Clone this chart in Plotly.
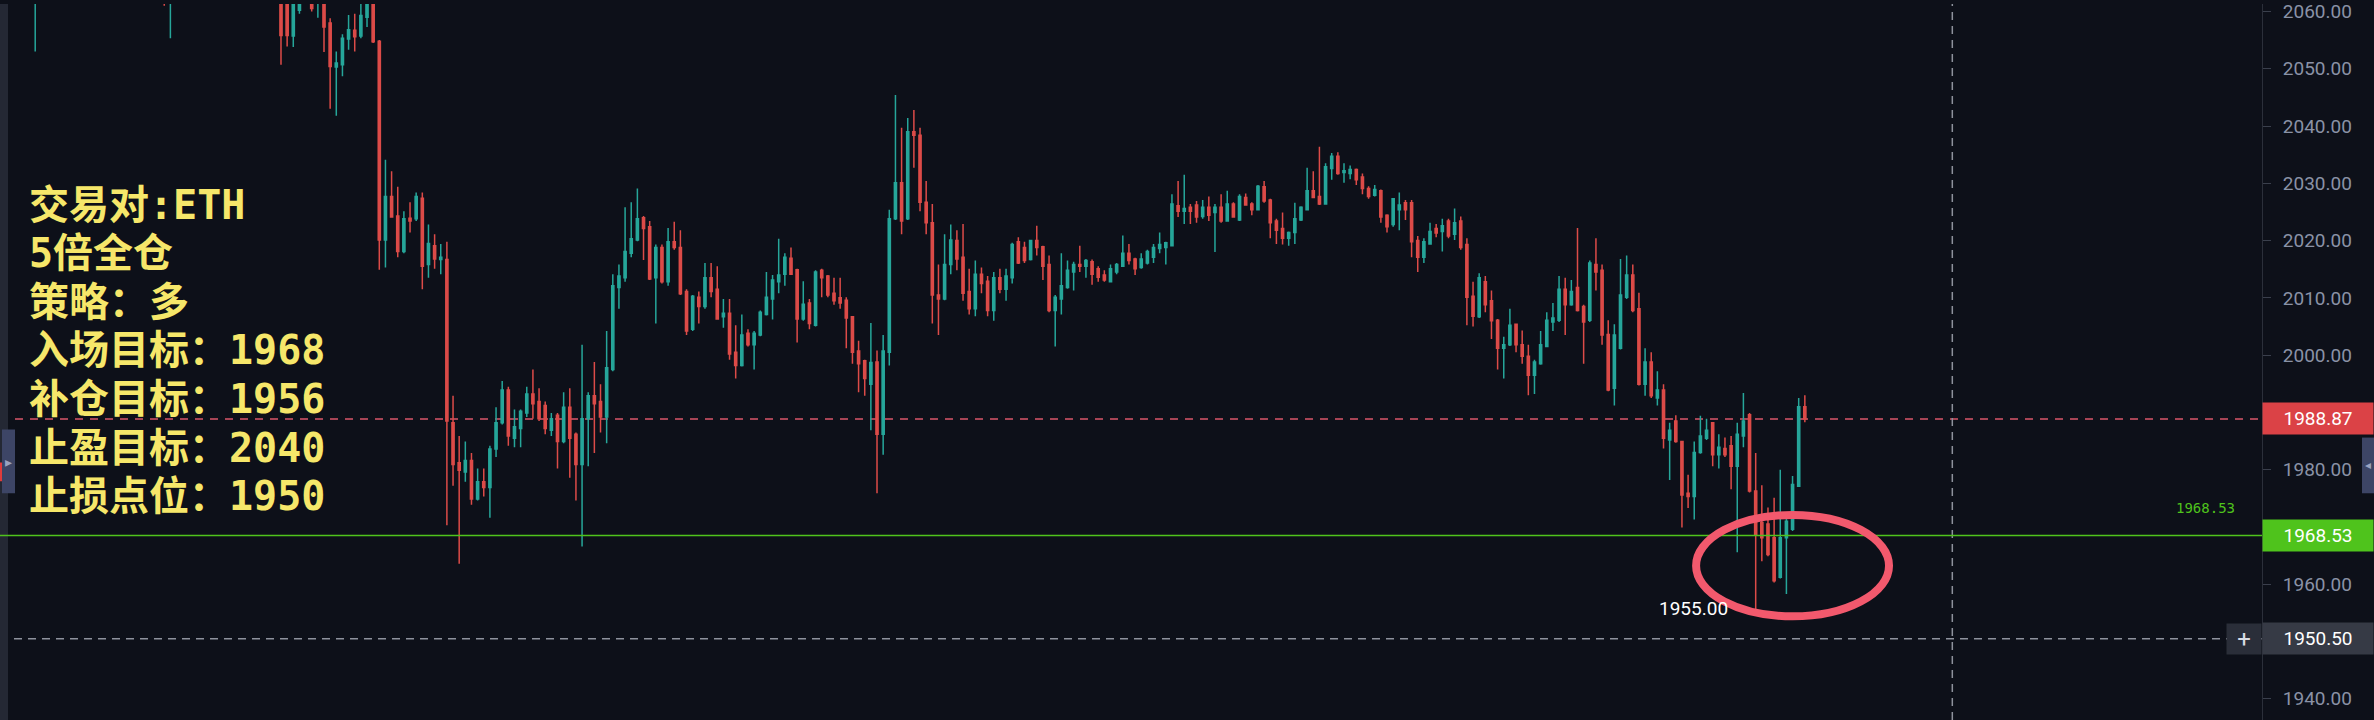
import plotly.graph_objects as go

# ---------------- data ----------------
bar_index = [0, 21, 22, 40, 41, 42, 43, 45, 46, 47,
             48, 49, 50, 51, 52, 53, 54, 55, 56, 57, 58, 59, 60, 61, 62, 63, 64, 65, 66, 67,
             68, 69, 70, 71, 72, 73, 74, 75, 76, 77, 78, 79, 80, 81, 82, 83, 84, 85, 86, 87,
             88, 89, 90, 91, 92, 93, 94, 95, 96, 97, 98, 99, 100, 101, 102, 103, 104, 105, 106, 107,
             108, 109, 110, 111, 112, 113, 114, 115, 116, 117, 118, 119, 120, 121, 122, 123, 124, 125, 126, 127,
             128, 129, 130, 131, 132, 133, 134, 135, 136, 137, 138, 139, 140, 141, 142, 143, 144, 145, 146, 147,
             148, 149, 150, 151, 152, 153, 154, 155, 156, 157, 158, 159, 160, 161, 162, 163, 164, 165, 166, 167,
             168, 169, 170, 171, 172, 173, 174, 175, 176, 177, 178, 179, 180, 181, 182, 183, 184, 185, 186, 187,
             188, 189, 190, 191, 192, 193, 194, 195, 196, 197, 198, 199, 200, 201, 202, 203, 204, 205, 206, 207,
             208, 209, 210, 211, 212, 213, 214, 215, 216, 217, 218, 219, 220, 221, 222, 223, 224, 225, 226, 227,
             228, 229, 230, 231, 232, 233, 234, 235, 236, 237, 238, 239, 240, 241, 242, 243, 244, 245, 246, 247,
             248, 249, 250, 251, 252, 253, 254, 255, 256, 257, 258, 259, 260, 261, 262, 263, 264, 265, 266, 267,
             268, 269, 270, 271, 272, 273, 274, 275, 276, 277, 278, 279, 280, 281, 282, 283, 284, 285, 286, 287,
             288]

open_ = [2063, 2064, 2063, 2064, 2063, 2055.7, 2060.2, 2063, 2063, 2063,
         2058.0, 2050.3, 2050.7, 2055.2, 2056.7, 2055.7, 2059.0, 2063.0, 2054.8, 2020.1, 2027.7, 2024.3, 2018.1, 2023.9, 2023.8, 2027.4, 2015.8, 2019.1, 2016.7, 2016.7,
         1988.2, 1981.2, 1979.6, 1981.6, 1974.9, 1977.9, 1976.9, 1983.6, 1988.2, 1993.9, 1985.5, 1987.2, 1989.9, 1993.2, 1991.9, 1991.2, 1986.9, 1989.5, 1984.9, 1990.9,
         1986.2, 1980.9, 1988.9, 1992.9, 1991.9, 1989.2, 1997.5, 2011.8, 2013.5, 2017.8, 2020.1, 2024.0, 2022.4, 2013.5, 2018.8, 2012.8, 2019.8, 2018.8, 2011.1, 2004.5,
         2010.1, 2008.5, 2013.5, 2011.5, 2006.7, 2007.3, 2000.5, 1998.2, 2003.8, 2001.8, 2003.5, 2007.1, 2009.8, 2012.8, 2014.1, 2016.9, 2014.9, 2006.3, 2009.1, 2005.2,
         2014.8, 2013.8, 2010.8, 2010.0, 2009.6, 2006.7, 2000.7, 1999.0, 1994.9, 1998.8, 1986.2, 2000.5, 2023.8, 2030.1, 2023.8, 2039.0, 2038.4, 2026.7, 2023.1, 2010.5,
         2009.8, 2015.8, 2020.0, 2017.1, 2011.1, 2008.1, 2014.1, 2012.9, 2007.8, 2013.5, 2011.5, 2013.5, 2019.8, 2018.8, 2016.7, 2020.0, 2018.9, 2015.8, 2007.8, 2009.8,
         2011.8, 2014.5, 2015.8, 2015.5, 2016.3, 2015.1, 2014.0, 2012.8, 2014.5, 2015.5, 2017.8, 2016.8, 2015.3, 2016.1, 2017.1, 2018.6, 2018.8, 2019.1, 2026.1, 2025.1,
         2025.8, 2026.2, 2024.2, 2025.8, 2024.9, 2025.8, 2023.4, 2026.4, 2023.6, 2027.5, 2026.4, 2025.4, 2029.4, 2027.1, 2023.4, 2022.1, 2020.4, 2021.4, 2023.6, 2025.4,
         2028.7, 2027.7, 2026.4, 2032.6, 2034.7, 2031.9, 2031.7, 2032.4, 2031.1, 2029.1, 2027.9, 2028.7, 2024.4, 2022.8, 2025.4, 2026.6, 2026.6, 2020.0, 2017.1, 2019.4,
         2022.1, 2021.6, 2023.4, 2021.1, 2023.4, 2019.3, 2010.3, 2006.7, 2012.8, 2009.5, 2006.1, 2001.2, 2001.8, 2005.4, 2001.8, 1999.8, 1996.5, 1998.5, 2001.5, 2005.8,
         2006.1, 2011.5, 2008.8, 2011.8, 2008.5, 2006.1, 2015.8, 2014.8, 2003.6, 1994.2, 2001.2, 2010.1, 2014.0, 2008.1, 1994.9, 1998.8, 1992.5, 1993.9, 1985.2, 1988.5,
         1984.9, 1975.9, 1975.3, 1983.0, 1985.5, 1988.2, 1982.6, 1983.7, 1984.2, 1980.6, 1985.9, 1989.6, 1976.3, 1970.8, 1970.5, 1968.1, 1961.2, 1968.1, 1969.6, 1977.1,
         1991.0]

high = [2070, 2066, 2069, 2066, 2065, 2065, 2066, 2065, 2067, 2065,
        2058.8, 2053.0, 2056.0, 2059.4, 2059.6, 2061.5, 2064.0, 2065.0, 2055.0, 2034.1, 2032.1, 2029.4, 2025.1, 2026.7, 2028.4, 2028.4, 2022.8, 2021.1, 2019.4, 2019.8,
        1992.9, 1985.9, 1984.9, 1982.9, 1980.2, 1980.2, 1984.2, 1990.9, 1995.5, 1994.5, 1990.5, 1990.5, 1994.5, 1997.5, 1994.2, 1991.9, 1989.9, 1989.9, 1993.5, 1994.2,
        1986.5, 2001.8, 1993.5, 1998.8, 1994.9, 2004.2, 2014.1, 2015.8, 2025.8, 2026.7, 2029.1, 2024.3, 2023.4, 2019.3, 2019.3, 2022.2, 2023.3, 2021.8, 2011.5, 2010.5,
        2011.1, 2016.1, 2016.1, 2015.5, 2009.8, 2009.8, 2005.2, 2007.1, 2004.5, 2004.2, 2007.8, 2014.5, 2014.0, 2020.3, 2017.8, 2018.8, 2015.1, 2012.9, 2009.8, 2014.8,
        2015.1, 2014.0, 2013.5, 2013.5, 2010.1, 2006.8, 2002.5, 1999.2, 2005.6, 2000.8, 2003.5, 2025.4, 2045.4, 2039.7, 2041.4, 2042.8, 2039.7, 2030.4, 2026.4, 2015.8,
        2021.1, 2022.8, 2021.8, 2022.9, 2015.1, 2016.5, 2015.3, 2013.8, 2014.5, 2015.1, 2015.1, 2019.6, 2020.6, 2019.8, 2020.1, 2022.6, 2019.1, 2017.4, 2010.5, 2017.8,
        2016.5, 2016.3, 2019.1, 2016.8, 2016.7, 2015.5, 2014.8, 2015.8, 2016.1, 2020.9, 2019.4, 2017.0, 2017.8, 2018.4, 2019.4, 2021.4, 2019.8, 2028.1, 2030.4, 2031.5,
        2026.4, 2026.9, 2027.1, 2027.7, 2026.4, 2028.1, 2028.7, 2026.7, 2028.1, 2028.2, 2026.7, 2029.7, 2030.4, 2027.3, 2023.8, 2024.9, 2021.6, 2026.6, 2026.0, 2032.7,
        2032.1, 2036.4, 2033.5, 2035.3, 2035.4, 2033.5, 2033.1, 2032.6, 2031.7, 2029.5, 2029.7, 2028.9, 2024.6, 2027.4, 2028.4, 2027.1, 2027.1, 2020.8, 2020.4, 2023.1,
        2022.9, 2023.8, 2023.8, 2025.6, 2024.2, 2020.4, 2012.8, 2014.3, 2013.8, 2011.3, 2006.3, 2003.2, 2008.1, 2005.5, 2004.3, 2001.8, 1999.2, 2004.2, 2007.5, 2009.1,
        2013.8, 2013.5, 2013.1, 2022.2, 2008.8, 2016.5, 2020.4, 2015.8, 2006.1, 2005.4, 2016.8, 2017.4, 2015.8, 2010.9, 2001.2, 2000.5, 1997.2, 1994.9, 1988.2, 1989.5,
        1985.0, 1979.1, 1984.9, 1989.4, 1988.9, 1988.3, 1986.2, 1985.6, 1985.9, 1988.2, 1993.4, 1989.9, 1982.9, 1977.3, 1973.4, 1975.1, 1980.0, 1971.6, 1978.9, 1992.5,
        1993.0]

low = [2053.0, 2061.0, 2055.3, 2050.7, 2053.9, 2053.8, 2059.6, 2060.0, 2058.9, 2052.9,
       2043.0, 2041.8, 2048.7, 2053.3, 2053.0, 2055.3, 2057.3, 2054.5, 2014.9, 2015.3, 2024.0, 2017.1, 2017.8, 2021.4, 2023.4, 2011.5, 2013.5, 2015.1, 2014.1, 1970.3,
       1977.2, 1963.6, 1977.9, 1973.9, 1974.6, 1975.3, 1971.6, 1982.2, 1987.9, 1984.2, 1983.9, 1983.9, 1989.2, 1988.9, 1988.5, 1986.2, 1985.9, 1980.2, 1984.6, 1978.6,
       1974.6, 1966.6, 1980.6, 1982.9, 1986.5, 1984.6, 1997.2, 2008.1, 2012.8, 2017.1, 2019.9, 2016.6, 2013.1, 2005.5, 2012.5, 2012.1, 2018.4, 2010.5, 2003.5, 2004.2,
       2005.5, 2008.1, 2010.1, 2006.2, 2004.8, 1999.2, 1995.9, 1998.0, 2001.5, 1997.5, 2003.3, 2006.9, 2006.2, 2010.8, 2012.1, 2014.0, 2002.2, 2006.0, 2004.5, 2005.0,
       2010.1, 2010.1, 2008.8, 2008.1, 2001.2, 1998.5, 1993.5, 1992.9, 1986.9, 1975.9, 1982.6, 1998.2, 2023.6, 2021.1, 2023.6, 2032.7, 2025.1, 2021.1, 2005.5, 2003.5,
       2009.6, 2014.1, 2014.8, 2009.5, 2007.1, 2006.8, 2010.8, 2006.8, 2006.0, 2010.8, 2009.5, 2012.5, 2015.9, 2016.1, 2016.5, 2017.4, 2013.1, 2007.5, 2001.5, 2007.1,
       2011.6, 2011.3, 2014.5, 2013.5, 2012.3, 2012.8, 2012.8, 2012.7, 2014.1, 2015.4, 2015.8, 2014.0, 2015.1, 2015.8, 2016.1, 2017.8, 2015.8, 2019.0, 2024.1, 2022.9,
       2022.9, 2023.1, 2023.8, 2023.4, 2018.0, 2023.1, 2023.3, 2024.0, 2023.4, 2026.1, 2024.4, 2025.3, 2026.6, 2020.4, 2019.4, 2019.3, 2019.1, 2019.4, 2023.4, 2025.3,
       2027.4, 2026.2, 2026.3, 2030.6, 2031.5, 2030.1, 2030.7, 2029.7, 2028.1, 2027.3, 2027.7, 2023.1, 2021.4, 2022.4, 2021.8, 2023.6, 2017.1, 2014.5, 2016.1, 2019.3,
       2020.6, 2018.1, 2020.4, 2020.1, 2018.4, 2005.2, 2005.0, 2006.5, 2007.5, 2002.8, 1997.5, 1995.9, 2001.6, 2000.5, 1998.5, 1993.0, 1993.2, 1998.3, 2001.4, 2004.2,
       2005.8, 2003.5, 2008.6, 2007.6, 1998.5, 2005.8, 2011.3, 2001.8, 1993.7, 1991.2, 2001.0, 2009.8, 2007.5, 1994.7, 1992.9, 1992.5, 1991.2, 1983.7, 1978.2, 1984.7,
       1969.9, 1973.3, 1971.3, 1982.8, 1985.2, 1980.6, 1980.2, 1982.2, 1976.6, 1965.6, 1983.9, 1976.0, 1955.0, 1964.0, 1964.9, 1960.3, 1961.0, 1958.3, 1969.3, 1977.0,
       1988.3]

close = [2068, 2061.8, 2067, 2055.8, 2055.8, 2063, 2064, 2060.5, 2066, 2057.3,
         2050.4, 2051.0, 2055.3, 2056.8, 2055.6, 2059.3, 2062.5, 2054.7, 2020.1, 2027.7, 2024.1, 2018.1, 2023.8, 2023.4, 2027.7, 2015.5, 2019.5, 2016.8, 2017.1, 1988.5,
         1980.9, 1979.9, 1981.6, 1974.9, 1977.9, 1976.9, 1983.6, 1988.2, 1993.9, 1985.9, 1987.5, 1990.2, 1993.2, 1991.5, 1988.9, 1987.2, 1988.9, 1984.9, 1990.9, 1985.5,
         1980.9, 1988.9, 1992.9, 1991.5, 1989.2, 1997.8, 2012.1, 2013.8, 2018.1, 2020.3, 2023.8, 2022.1, 2013.3, 2018.8, 2012.8, 2019.8, 2018.8, 2010.7, 2004.2, 2010.3,
         2008.5, 2013.5, 2011.1, 2006.3, 2007.3, 2000.2, 1998.2, 2003.5, 2001.8, 2003.8, 2007.5, 2010.1, 2013.1, 2014.0, 2017.1, 2014.1, 2006.3, 2008.9, 2005.5, 2014.5,
         2013.5, 2010.5, 2009.5, 2009.1, 2006.5, 2000.5, 1998.5, 1995.9, 1998.7, 1986.2, 2000.7, 2023.8, 2030.1, 2023.4, 2039.0, 2038.4, 2026.7, 2023.1, 2010.5, 2009.8,
         2015.8, 2020.1, 2016.8, 2010.8, 2008.1, 2014.1, 2012.5, 2007.8, 2013.5, 2011.5, 2013.8, 2019.3, 2016.1, 2016.5, 2020.0, 2018.8, 2015.5, 2007.8, 2010.1, 2012.1,
         2014.8, 2015.8, 2015.5, 2016.5, 2014.1, 2013.6, 2013.1, 2015.1, 2015.8, 2017.8, 2016.5, 2015.1, 2016.8, 2018.1, 2018.8, 2019.3, 2019.6, 2026.4, 2025.1, 2025.6,
         2025.1, 2024.1, 2025.8, 2024.4, 2025.8, 2023.4, 2026.4, 2024.1, 2027.7, 2026.2, 2025.4, 2029.5, 2026.9, 2023.1, 2021.8, 2020.4, 2021.4, 2023.8, 2025.8, 2028.7,
         2027.5, 2026.4, 2032.9, 2034.7, 2031.7, 2032.2, 2032.4, 2030.6, 2029.1, 2027.7, 2028.9, 2024.1, 2022.4, 2027.3, 2026.2, 2025.4, 2019.8, 2017.1, 2019.8, 2021.6,
         2021.3, 2022.6, 2020.8, 2023.1, 2018.8, 2010.1, 2006.8, 2013.5, 2008.8, 2006.0, 2001.2, 2001.8, 2005.2, 2001.8, 1999.8, 1996.5, 1998.8, 2001.8, 2006.1, 2006.5,
         2011.5, 2008.8, 2011.1, 2007.8, 2005.8, 2016.1, 2014.5, 2003.5, 1993.9, 2003.5, 2010.5, 2014.0, 2007.8, 1994.9, 1998.8, 1992.9, 1993.9, 1985.5, 1986.9, 1984.9,
         1975.6, 1975.3, 1983.0, 1985.9, 1986.9, 1982.6, 1983.9, 1982.6, 1980.6, 1986.2, 1988.5, 1976.3, 1968.7, 1968.1, 1965.2, 1960.6, 1968.1, 1971.0, 1977.4, 1991.0,
         1988.87]

# axis labels that stay visible (1950/1970/1990 sit under the price tags)
price_ticks = [1940, 1960, 1980, 2000, 2010, 2020, 2030, 2040, 2050, 2060]
price_tick_labels = ["1940.00", "1960.00", "1980.00", "2000.00", "2010.00",
                     "2020.00", "2030.00", "2040.00", "2050.00", "2060.00"]

last_price = 1988.87
entry_line_price = 1968.53
crosshair_price = 1950.50
crosshair_bar = 312
session_low = 1955.00
session_low_bar = 280

strategy_lines = ["交易对:ETH", "5倍全仓", "策略：多", "入场目标：1968",
                  "补仓目标：1956", "止盈目标：2040", "止损点位：1950"]

# ---------------- styling ----------------
W, H = 2374, 720
AXIS_W = 112
PLOT_W = W - AXIS_W
BG = "#0d1019"
GREEN = "#26a69a"
RED = "#dc4b48"
YELLOW = "#f6e76a"
LINE_GREEN = "#4fc31c"
X_RANGE = [-5.73, 362.4]
Y_RANGE = [1936.3, 2061.3]

fig = go.Figure(go.Candlestick(
    x=bar_index, open=open_, high=high, low=low, close=close,
    increasing=dict(line=dict(color=GREEN, width=1.5), fillcolor=GREEN),
    decreasing=dict(line=dict(color=RED, width=1.5), fillcolor=RED),
    whiskerwidth=0, hoverinfo="skip", showlegend=False,
))

shapes = [
    # left toolbar strip
    dict(type="rect", xref="paper", yref="paper", x0=0, x1=8 / PLOT_W, y0=0, y1=1,
         fillcolor="#242834", line=dict(width=0), layer="above"),
    dict(type="rect", xref="paper", yref="paper", x0=2 / PLOT_W, x1=15 / PLOT_W,
         y0=1 - 492 / H, y1=1 - 428 / H, fillcolor="#3d4566", line=dict(width=0), layer="above"),
    dict(type="rect", xref="paper", yref="paper", x0=0, x1=2 / PLOT_W,
         y0=1 - 480 / H, y1=1 - 461 / H, fillcolor="#e03c3c", line=dict(width=0), layer="above"),
    # right tab
    dict(type="rect", xref="paper", yref="paper", x0=2362 / PLOT_W, x1=2374 / PLOT_W,
         y0=1 - 492 / H, y1=1 - 436 / H, fillcolor="#3d4566", line=dict(width=0), layer="above"),
    # last price dashed line
    dict(type="line", xref="paper", yref="y", x0=0, x1=1, y0=last_price, y1=last_price,
         line=dict(color="#d9566a", width=1.5, dash="8px,7px"), layer="below"),
    # entry solid green line
    dict(type="line", xref="paper", yref="y", x0=0, x1=1, y0=entry_line_price, y1=entry_line_price,
         line=dict(color=LINE_GREEN, width=1.5), layer="above"),
    # crosshair
    dict(type="line", xref="paper", yref="y", x0=0, x1=1, y0=crosshair_price, y1=crosshair_price,
         line=dict(color="#8e929d", width=1.5, dash="8px,6px"), layer="below"),
    dict(type="line", xref="x", yref="paper", x0=crosshair_bar, x1=crosshair_bar, y0=0, y1=1,
         line=dict(color="#8e929d", width=1.5, dash="8px,6px"), layer="below"),
    # highlight ellipse
    dict(type="circle", xref="x", yref="y", x0=270.3, x1=301.7, y0=1954.4, y1=1972.1,
         line=dict(color="#f2596d", width=8), fillcolor="rgba(0,0,0,0)", layer="above"),
]

annotations = []
for k, txt in enumerate(strategy_lines):
    yc = 202 + k * 48.8
    annotations.append(dict(
        xref="paper", yref="paper", x=27 / PLOT_W, y=1 - yc / H, xanchor="left", yanchor="middle",
        text="<b>" + txt + "</b>", showarrow=False,
        font=dict(family="DejaVu Sans Mono, Noto Sans CJK SC", size=40, color=YELLOW),
    ))

def price_box(price, color, txt_color="#ffffff"):
    return dict(xref="paper", yref="y", x=1, y=price, xanchor="left", yanchor="middle",
                text=f"{price:.2f}", showarrow=False, bgcolor=color, width=110, height=31,
                borderpad=0, align="center",
                font=dict(family="Roboto", size=19, color=txt_color))

annotations += [
    price_box(last_price, "#db4246"),
    price_box(entry_line_price, LINE_GREEN),
    price_box(crosshair_price, "#363a45"),
    dict(xref="paper", yref="y", x=1, y=crosshair_price, xanchor="right", yanchor="middle",
         text="+", showarrow=False, bgcolor="#2a2e39", width=34, height=30, borderpad=0,
         font=dict(family="Roboto", size=24, color="#d8dbe3")),
    dict(xref="paper", yref="y", x=1 - 25 / PLOT_W, y=entry_line_price, xanchor="right",
         yanchor="middle", yshift=27, text=f"{entry_line_price:.2f}", showarrow=False,
         font=dict(family="DejaVu Sans Mono", size=14, color=LINE_GREEN)),
    dict(xref="x", yref="y", x=session_low_bar, y=session_low, xanchor="right", yanchor="middle",
         xshift=-26, yshift=4, text=f"{session_low:.2f}", showarrow=False,
         font=dict(family="Roboto", size=19, color="#ffffff")),
    dict(xref="paper", yref="paper", x=8.5 / PLOT_W, y=1 - 460 / H, xanchor="center", yanchor="middle",
         text="▸", showarrow=False, font=dict(size=14, color="#9aa3c0")),
    dict(xref="paper", yref="paper", x=2368 / PLOT_W, y=1 - 463 / H, xanchor="center", yanchor="middle",
         text="◂", showarrow=False, font=dict(size=12, color="#9aa3c0")),
]

fig.update_layout(
    width=W, height=H,
    margin=dict(l=0, r=AXIS_W, t=0, b=0),
    paper_bgcolor=BG, plot_bgcolor=BG,
    boxgap=0.5,
    showlegend=False,
    hovermode=False,
    dragmode=False,
    shapes=shapes,
    annotations=annotations,
    xaxis=dict(range=X_RANGE, visible=False, showgrid=False, zeroline=False,
               rangeslider=dict(visible=False), fixedrange=True),
    yaxis=dict(side="right", range=Y_RANGE, tickvals=price_ticks, ticktext=price_tick_labels,
               showgrid=False, zeroline=False, showline=True, linecolor="#2b2f3a", linewidth=1,
               ticks="outside", ticklen=8, tickcolor="#3a3f4c", tickwidth=1,
               ticklabelstandoff=8, ticklabeloverflow="allow",
               tickfont=dict(family="Roboto", size=19, color="#8a92a6"), fixedrange=True),
)

fig.write_html("out.html")
